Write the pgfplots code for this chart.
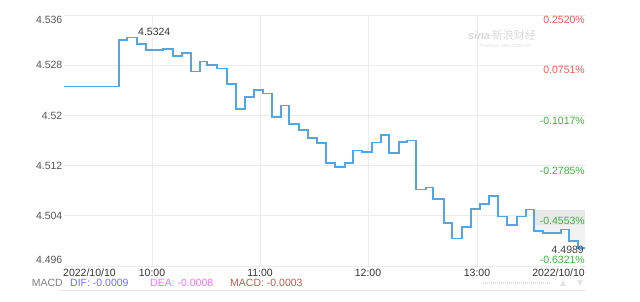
\documentclass[border=0pt]{standalone}
\usepackage{pgfplots}
\pgfplotsset{compat=1.18}
\usepackage{fontspec}
\setmainfont{Liberation Sans}
\newfontfamily\cjk{Noto Sans CJK SC}
\definecolor{linec}{RGB}{82,166,226}
\definecolor{gridc}{RGB}{236,236,236}
\definecolor{upc}{RGB}{255,85,85}
\definecolor{dnc}{RGB}{60,180,60}
\definecolor{lblc}{RGB}{85,85,85}
\definecolor{tkc}{RGB}{51,51,51}
\definecolor{difc}{RGB}{110,110,255}
\definecolor{deac}{RGB}{255,110,255}
\definecolor{macdc}{RGB}{185,95,75}
\begin{document}
\begin{tikzpicture}
\path[use as bounding box] (-64pt,-36pt) rectangle (576pt,266pt);
\begin{axis}[
  scale only axis, width=521pt, height=251pt,
  xmin=64, xmax=585, ymin=4.496, ymax=4.536,
  axis line style={draw=none}, tick style={draw=none},
  xtick={152,260,368,477}, xticklabels={10:00,11:00,12:00,13:00},
  ytick={4.496,4.504,4.512,4.52,4.528,4.536}, yticklabels={},
  grid=major, major grid style={gridc, line width=0.8pt},
  xticklabel style={inner sep=0pt, anchor=north, yshift=-3pt, text=tkc, font=\fontsize{10.5}{12}\selectfont},
  clip=false,
]
% shaded region near the end
\addplot[fill=gray!10, draw=none] coordinates {(534,4.5050) (585,4.5050) (585,4.4989) (578,4.4989) (578,4.5000) (569,4.5000) (569,4.5018) (561,4.5018) (561,4.5013) (543,4.5013) (543,4.5016) (534,4.5016)} --cycle;
\addplot[fill=gray!18, draw=none] coordinates {(534,4.5050) (585,4.5050) (585,4.5026) (534,4.5026)} --cycle;
\addplot[const plot, linec, line width=1.6pt] coordinates {
(64,4.5246) (119,4.5320) (127,4.5324) (137,4.5314) (146,4.5304) (163,4.5306)
(173,4.5295) (182,4.5299) (191,4.5270) (200,4.5286) (207,4.5280) (217,4.5275)
(227,4.5250) (236,4.5210) (245,4.5229) (254,4.5240) (263,4.5235) (272,4.5197)
(281,4.5216) (289,4.5186) (299,4.5177) (308,4.5164) (317,4.5156) (326,4.5124)
(335,4.5118) (345,4.5124) (353,4.5144) (362,4.5142) (372,4.5157) (381,4.5169)
(389,4.5140) (399,4.5158) (407,4.5160) (416,4.5082) (426,4.5085) (433,4.5067)
(444,4.5029) (452,4.5004) (462,4.5022) (471,4.5051) (480,4.5059) (489,4.5072)
(498,4.5039) (507,4.5025) (517,4.5039) (526,4.5050) (534,4.5016) (543,4.5013)
(561,4.5018) (569,4.5000) (578,4.4989) (585,4.4989)};
% left labels
\begin{scope}[every node/.style={anchor=east, text=lblc, inner sep=0pt, font=\fontsize{10.5}{12}\selectfont}]
\node at (axis cs:64,4.536) [xshift=-1.5pt, yshift=-5pt] {4.536};
\node at (axis cs:64,4.528) [xshift=-1.5pt] {4.528};
\node at (axis cs:64,4.520) [xshift=-1.5pt] {4.52};
\node at (axis cs:64,4.512) [xshift=-1.5pt] {4.512};
\node at (axis cs:64,4.504) [xshift=-1.5pt] {4.504};
\node at (axis cs:64,4.496) [xshift=-1.5pt, yshift=6pt] {4.496};
\end{scope}
% right labels
\begin{scope}[every node/.style={anchor=east, inner sep=0pt, font=\fontsize{10.5}{12}\selectfont}]
\node[text=upc] at (axis cs:585,4.536) [yshift=-5pt] {0.2520\%};
\node[text=upc] at (axis cs:585,4.528) [yshift=-5pt] {0.0751\%};
\node[text=dnc] at (axis cs:585,4.520) [yshift=-5pt] {-0.1017\%};
\node[text=dnc] at (axis cs:585,4.512) [yshift=-5pt] {-0.2785\%};
\node[text=dnc] at (axis cs:585,4.504) [yshift=-5pt] {-0.4553\%};
\node[text=black!75] at (axis cs:584,4.496) [yshift=16pt] {4.4989};
\node[text=dnc] at (axis cs:585,4.496) [yshift=6pt] {-0.6321\%};
\end{scope}
% max label
\node[anchor=west, inner sep=0pt, text=black!80, font=\fontsize{10.5}{12}\selectfont] at (axis cs:138,4.5333) {4.5324};
% watermark
\node[text=gray!30, inner sep=0pt, font=\fontsize{11}{12}\selectfont] at (axis cs:502,4.5328) {\textbf{\textit{sina}}\,{\cjk 新浪财经}};
\node[text=gray!25, inner sep=0pt, font=\fontsize{4.5}{5}\selectfont] at (axis cs:505,4.5311) {FINANCE.SINA.COM.CN};
% date labels
\node[anchor=north west, inner sep=0pt, text=tkc, font=\fontsize{10.5}{12}\selectfont] at (axis cs:63,4.496) [yshift=-3pt] {2022/10/10};
\node[anchor=north east, inner sep=0pt, text=tkc, font=\fontsize{10.5}{12}\selectfont] at (axis cs:585,4.496) [yshift=-3pt] {2022/10/10};
\end{axis}
% MACD row
\begin{scope}[every node/.style={anchor=west, inner sep=0pt, font=\fontsize{10.5}{12}\selectfont}]
\node[text=gray] at (-32.3pt,-17pt) {MACD};
\node[text=difc] at (6pt,-17pt) {DIF: -0.0009};
\node[text=deac] at (86pt,-17pt) {DEA: -0.0008};
\node[text=macdc] at (166pt,-17pt) {MACD: -0.0003};
\end{scope}
\draw[gray!20, line width=0.6pt] (-4pt,-24pt) -- (521pt,-24pt);
\draw[gray!25, line width=2.5pt, dash pattern=on 1pt off 1pt] (419pt,-17pt) -- (486pt,-17pt);
\fill[gray!20] (496pt,-20pt) -- (502pt,-20pt) -- (499pt,-14pt) -- cycle;
\fill[gray!20] (513pt,-14pt) -- (519pt,-14pt) -- (516pt,-20pt) -- cycle;
\end{tikzpicture}
\end{document}
